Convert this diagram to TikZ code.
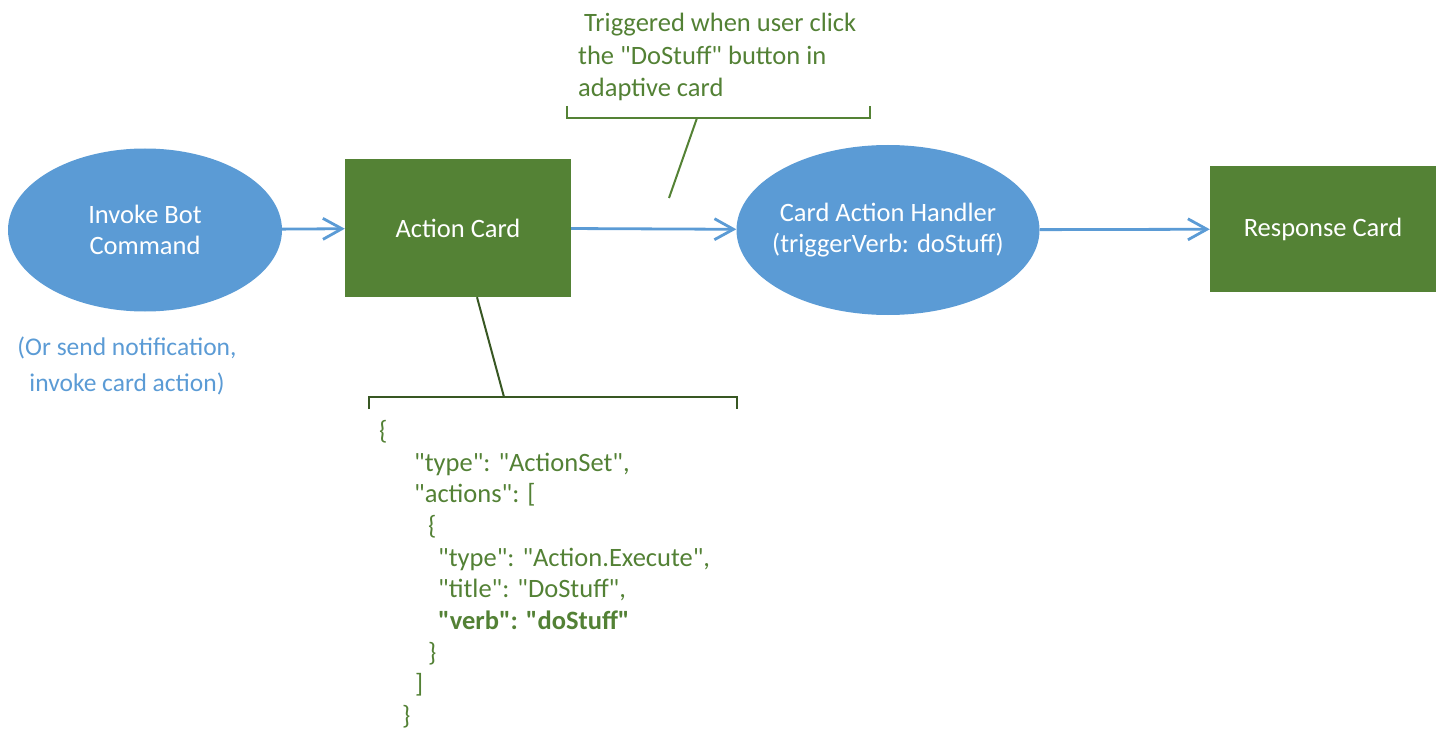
\documentclass[tikz,border=0pt]{standalone}
\usepackage{fontspec}
\setmainfont{Carlito}
\usetikzlibrary{arrows.meta,shapes.geometric,positioning}

\definecolor{cardblue}{HTML}{5B9BD5}
\definecolor{cardgreen}{HTML}{548235}
\definecolor{notegreen}{HTML}{538135}
\definecolor{darkgreen}{HTML}{385723}
\newcommand\jq{\textquotedbl}

\begin{document}
\begin{tikzpicture}[x=1pt,y=-1pt,>={Straight Barb[length=19pt,width=21pt]},
                    font=\fontsize{26.5}{31.7}\selectfont]
  \tikzstyle{bubble}=[ellipse,fill=cardblue,text=white,align=center,inner sep=-30pt]
  \tikzstyle{card}=[rectangle,fill=cardgreen,text=white,inner sep=0pt]
  \tikzstyle{flow}=[->,draw=cardblue,line width=2.8pt]
  \tikzstyle{callout}=[line width=2pt]
  \tikzstyle{note}=[anchor=north west,inner sep=0pt,text=notegreen,align=left]

  \useasboundingbox (0,0) rectangle (1446,746);

  \node[bubble, minimum width=274pt, minimum height=163pt] (invoke)   at (145,230)  {Invoke Bot\\Command};
  \node[card, minimum width=226pt, minimum height=138pt]   (action)   at (458,228)  {Action Card};
  \node[bubble, minimum width=303pt, minimum height=170pt] (handler)  at (888,230)  {Card Action Handler\\(triggerVerb: doStuff)};
  \node[card, minimum width=226pt, minimum height=126pt]   (response) at (1323,229) {Response Card};

  \node[text=cardblue, align=center, font=\fontsize{25.5}{36}\selectfont] (other) at (127,366)
       {(Or send notification,\\invoke card action)};

  % callout above the handler arrow
  \node[note, font=\fontsize{26.5}{32.5}\selectfont] (trigger) at (578,13)
       {~Triggered when user click\\the \jq DoStuff\jq{} button in\\adaptive card};
  \coordinate (trigleft)  at (567,106);
  \coordinate (trigright) at (870,106);
  \coordinate (trigmid)   at (697,118);
  \coordinate (trigtip)   at (669,198);
  \draw[callout, cardgreen] (trigleft) -- ++(0,12) -| (trigright);
  \draw[callout, cardgreen] (trigmid) -- (trigtip);

  % card json below the action card
  \coordinate (jsonleft)  at (369,409);
  \coordinate (jsonright) at (737,409);
  \coordinate (jsonmid)   at (504,397);
  \draw[callout, darkgreen] (jsonleft) -- ++(0,-12) -| (jsonright);
  \draw[callout, darkgreen] ([xshift=19pt]action.south) -- (jsonmid);
  \node[note] (json) at (379,420) {\{\\
    \hspace*{35pt}\jq type\jq: \jq ActionSet\jq,\\
    \hspace*{35pt}\jq actions\jq: [\\
    \hspace*{49pt}\{\\
    \hspace*{59pt}\jq type\jq: \jq Action.Execute\jq,\\
    \hspace*{59pt}\jq title\jq: \jq DoStuff\jq,\\
    \hspace*{59pt}\textbf{\jq verb\jq: \jq doStuff\jq}\\
    \hspace*{49pt}\}\\
    \hspace*{36pt}]\\
    \hspace*{23pt}\}};

  \path[flow] (invoke)  edge (action)
              (action)  edge (handler)
              (handler) edge (response);
\end{tikzpicture}
\end{document}
